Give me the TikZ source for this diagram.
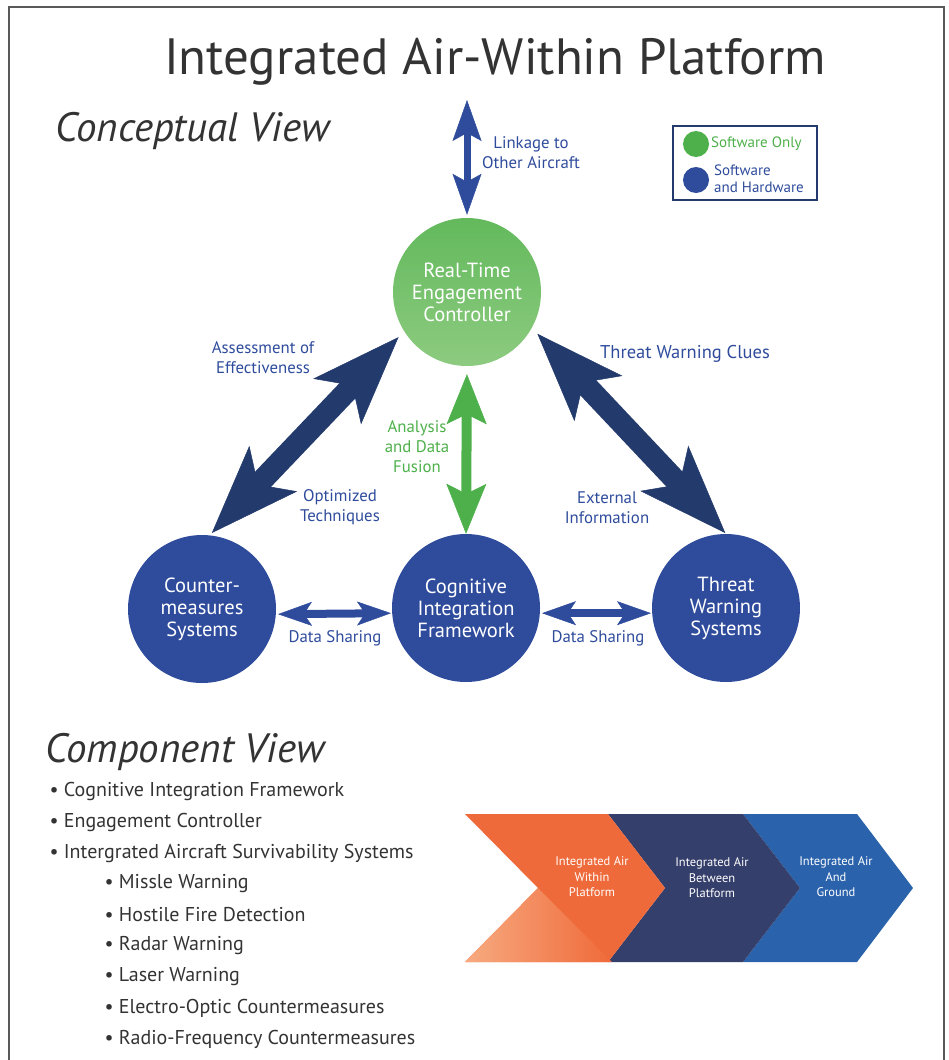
\documentclass[tikz,border=0pt]{standalone}
\usepackage{fontspec}
\setmainfont{PT Sans}
\usetikzlibrary{arrows.meta}

\definecolor{sysblue}{HTML}{2F4C9C}
\definecolor{linknavy}{HTML}{233A6C}
\definecolor{swgreen}{HTML}{4DB04A}
\definecolor{ctrltop}{HTML}{63B95C}
\definecolor{ctrlbot}{HTML}{8DCB80}
\definecolor{inkgray}{HTML}{333333}
\definecolor{chevorange}{HTML}{EF6A3A}
\definecolor{chevpale}{HTML}{F7AA80}
\definecolor{chevnavy}{HTML}{353F6B}
\definecolor{chevblue}{HTML}{2A62AC}

\begin{document}
\begin{tikzpicture}[x=1pt,y=-1pt,
    sys/.style={circle,minimum size=148pt,inner sep=0pt,text=white,align=center,
      font=\fontsize{20.5}{22}\selectfont},
    lbl/.style={text=sysblue,align=center,font=\fontsize{16.8}{20}\selectfont},
    head/.style={text=inkgray,font=\fontsize{41}{46}\selectfont\itshape,anchor=west},
    item/.style={text=inkgray,font=\fontsize{20}{22}\selectfont,anchor=west},
    chevtext/.style={text=white,align=center,font=\fontsize{12.5}{15.5}\selectfont},
    fat/.style={draw=linknavy,line width=22pt,
      {Stealth[length=89pt,width=66pt,inset=22pt,line width=0.5pt]}-{Stealth[length=89pt,width=66pt,inset=22pt,line width=0.5pt]}},
    thin/.style={draw=sysblue,line width=8pt,
      {Stealth[length=34pt,width=24pt,inset=8pt,line width=0.5pt]}-{Stealth[length=34pt,width=24pt,inset=8pt,line width=0.5pt]}}]
  \useasboundingbox (0,0) rectangle (948,1060);
  % frame
  \draw[color=black!65,line width=1.8pt] (9,1062) -- (9,7) -- (944,7) -- (944,1062);

  % headings
  \node[text=inkgray,font=\fontsize{51}{58}\selectfont] (title) at (495,62) {Integrated Air-Within Platform};
  \node[head] (concept) at (52,131) {Conceptual View};

  % legend
  \draw[draw=linknavy,line width=2pt] (673,126) rectangle (817,200);
  \node[circle,fill=swgreen,minimum size=26pt,inner sep=0pt] (greendot) at (696,144) {};
  \node[circle,fill=sysblue,minimum size=26pt,inner sep=0pt] (bluedot) at (696,180) {};
  \node[anchor=west,text=swgreen,font=\fontsize{15}{17}\selectfont,inner sep=0pt] (swonly) at (711,144) {Software Only};
  \node[anchor=west,text=sysblue,align=left,font=\fontsize{15}{17}\selectfont,inner sep=0pt] (swhw) at (714,178.5) {Software\\and Hardware};

  % systems
  \node[sys,top color=ctrltop,bottom color=ctrlbot] (ctrl) at (467,292) {Real-Time\\Engagement\\Controller};
  \node[sys,fill=sysblue] (cm) at (202,609) {Counter-\\measures\\Systems};
  \node[sys,fill=sysblue] (cog) at (466,608) {Cognitive\\Integration\\Framework};
  \node[sys,fill=sysblue] (tws) at (726,608) {Threat\\Warning\\Systems};
  \coordinate (link) at (467,100);

  % connectors
  \draw[draw=sysblue,line width=7pt,
    {Stealth[length=41pt,width=29pt,inset=8pt,line width=0.5pt]}-{Stealth[length=41pt,width=29pt,inset=8pt,line width=0.5pt]},
    shorten >=3pt] (link) -- (ctrl.north);
  \draw[draw=swgreen,line width=10pt,
    {Stealth[length=50pt,width=40pt,inset=10pt,line width=0.5pt]}-{Stealth[length=50pt,width=40pt,inset=10pt,line width=0.5pt]},
    shorten <=8pt] (ctrl.south) -- (cog.north);
  \draw[fat,shorten <=8pt,shorten >=3pt] (ctrl.212) -- (cm.84);
  \draw[fat,shorten <=8pt,shorten >=1pt] (ctrl.331) -- (tws.north);
  \draw[thin,shorten <=2pt,shorten >=1pt] (cm.-4) -- (cog.184);
  \draw[thin,shorten <=2pt,shorten >=1pt] (cog.-4) -- (tws.184);

  % labels
  \node[lbl] (linklbl) at (531,153) {Linkage to\\Other Aircraft};
  \node[lbl] (assess) at (263,358) {Assessment of\\Effectiveness};
  \node[lbl] (optim) at (340,507) {Optimized\\Techniques};
  \node[lbl,text=swgreen] (fusion) at (417,447) {Analysis\\and Data\\Fusion};
  \node[lbl,font=\fontsize{18.5}{20}\selectfont] (clues) at (685,354) {Threat Warning Clues};
  \node[lbl] (extern) at (607,508) {External\\Information};
  \node[lbl] (share1) at (335,638) {Data Sharing};
  \node[lbl] (share2) at (598,638) {Data Sharing};

  % component view
  \node[head] (compo) at (42,752) {Component View};
  \node[item] (i1) at (46,791) {• Cognitive Integration Framework};
  \node[item] (i2) at (46,822) {• Engagement Controller};
  \node[item] (i3) at (46,853) {• Intergrated Aircraft Survivability Systems};
  \node[item] (s1) at (101,884) {• Missle Warning};
  \node[item] (s2) at (101,915) {• Hostile Fire Detection};
  \node[item] (s3) at (101,946) {• Radar Warning};
  \node[item] (s4) at (101,977) {• Laser Warning};
  \node[item] (s5) at (101,1008) {• Electro-Optic Countermeasures};
  \node[item] (s6) at (101,1039) {• Radio-Frequency Countermeasures};

  % chevrons
  \fill[chevblue] (743,814) -- (857,814) -- (913,888) -- (857,962) -- (743,962) -- (800,888) -- cycle;
  \fill[chevnavy] (608,814) -- (743,814) -- (800,888) -- (743,962) -- (608,962) -- (665,888) -- cycle;
  \fill[chevorange] (465,814) -- (608,814) -- (665,888) -- (608,962) -- (465,962) -- (538,888) -- cycle;
  \shade[left color=chevpale,right color=chevorange] (465,962) -- (538,888) -- (612,962) -- cycle;
  \node[chevtext] (within) at (592,877) {Integrated Air\\Within\\Platform};
  \node[chevtext] (between) at (712,878) {Integrated Air\\Between\\Platform};
  \node[chevtext] (ground) at (836,877) {Integrated Air\\And\\Ground};
\end{tikzpicture}
\end{document}
